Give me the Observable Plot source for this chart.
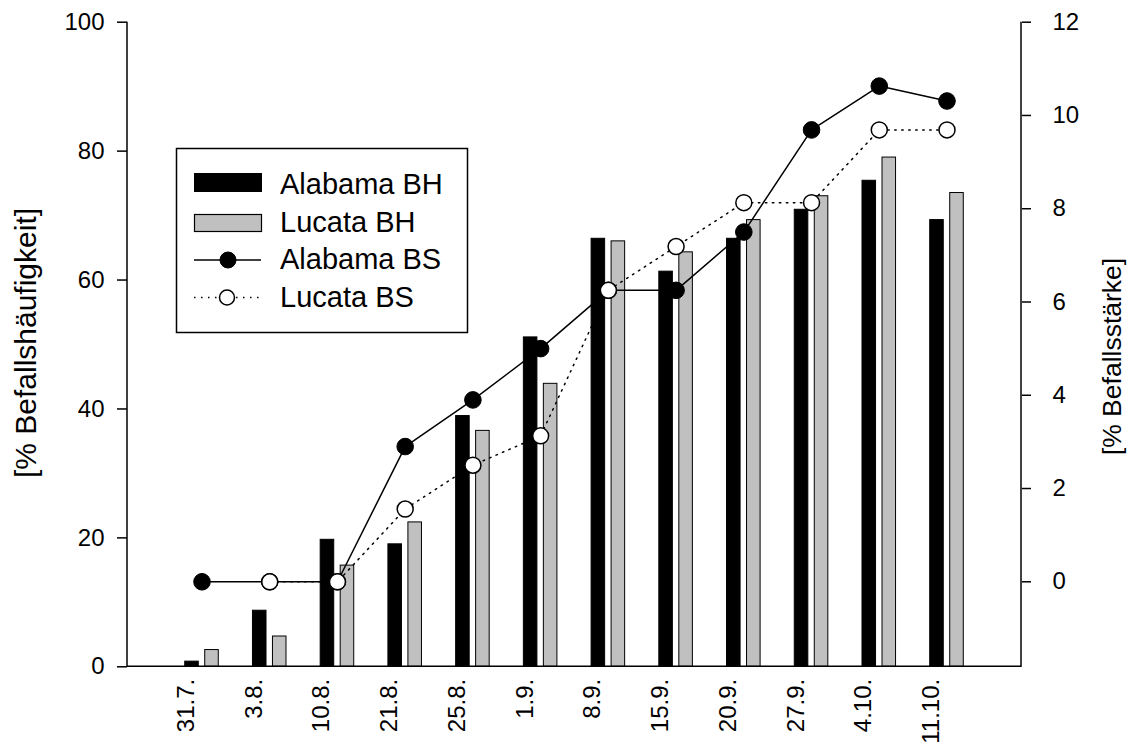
<!DOCTYPE html>
<html>
<head>
<meta charset="utf-8">
<script src="https://cdn.jsdelivr.net/npm/d3@7"></script>
<script src="https://cdn.jsdelivr.net/npm/@observablehq/plot@0.6"></script>
<style>
  html, body { margin: 0; padding: 0; background: #fff; }
  #chart { width: 1128px; height: 749px; }
</style>
</head>
<body>
<div id="chart"></div>
<script>
// ---- data ----
const dates = ["31.7.", "3.8.", "10.8.", "21.8.", "25.8.", "1.9.", "8.9.", "15.9.", "20.9.", "27.9.", "4.10.", "11.10."];
const alabamaBH = [0.8, 8.7, 19.7, 19.0, 38.9, 51.1, 66.4, 61.3, 66.4, 70.9, 75.4, 69.3];
const lucataBH = [2.6, 4.7, 15.7, 22.4, 36.6, 43.9, 66.0, 64.3, 69.3, 73.0, 79.0, 73.5];
const alabamaBS = [0, 0, 0, 2.9, 3.9, 5.0, 6.25, 6.25, 7.5, 9.69, 10.63, 10.31];
const lucataBS = [null, 0, 0, 1.56, 2.5, 3.13, 6.25, 7.19, 8.13, 8.13, 9.69, 9.69];
const leftTicks = [0, 20, 40, 60, 80, 100];
const rightTicks = [0, 2, 4, 6, 8, 10, 12];
const leftTitle = "[% Befallshäufigkeit]";
const rightTitle = "[% Befallsstärke]";
const legendNames = ["Alabama BH", "Lucata BH", "Alabama BS", "Lucata BS"];

// right axis domain mapped onto the left one
const rMin = -1.823, rMax = 12;
const toLeft = v => (v == null ? NaN : (v - rMin) / (rMax - rMin) * 100);

const rows = dates.map((d, i) => ({date: d, aBH: alabamaBH[i], lBH: lucataBH[i], aBS: toLeft(alabamaBS[i]), lBS: toLeft(lucataBS[i])}));

function axisLines(index, scales, values, dims) {
  const g = d3.create("svg:g").attr("stroke", "black").attr("stroke-width", 1.5).attr("fill", "none");
  const l = dims.marginLeft, r = dims.width - dims.marginRight, t = dims.marginTop, b = dims.height - dims.marginBottom;
  g.append("line").attr("x1", l).attr("x2", l).attr("y1", t).attr("y2", b + 0.75);
  g.append("line").attr("x1", r).attr("x2", r).attr("y1", t).attr("y2", b + 0.75);
  g.append("line").attr("x1", l).attr("x2", r).attr("y1", b).attr("y2", b);
  return g.node();
}

function legend(index, scales, values, dims) {
  const g = d3.create("svg:g");
  g.append("rect").attr("x", 176.5).attr("y", 148.5).attr("width", 291).attr("height", 184)
    .attr("fill", "white").attr("stroke", "black").attr("stroke-width", 1.5);
  const ys = [182.5, 222.5, 260, 297.5];
  g.append("rect").attr("x", 194).attr("y", 173).attr("width", 68).attr("height", 19).attr("fill", "black");
  g.append("rect").attr("x", 194.5).attr("y", 214.5).attr("width", 67).attr("height", 17)
    .attr("fill", "#c0c0c0").attr("stroke", "black").attr("stroke-width", 1.2);
  g.append("line").attr("x1", 194).attr("x2", 261).attr("y1", ys[2]).attr("y2", ys[2]).attr("stroke", "black").attr("stroke-width", 1.5);
  g.append("circle").attr("cx", 228).attr("cy", ys[2]).attr("r", 8).attr("fill", "black").attr("stroke", "black");
  g.append("line").attr("x1", 194).attr("x2", 261).attr("y1", ys[3]).attr("y2", ys[3]).attr("stroke", "black")
    .attr("stroke-width", 1.5).attr("stroke-dasharray", "1.5,5.5");
  g.append("circle").attr("cx", 227).attr("cy", ys[3]).attr("r", 7.5).attr("fill", "white").attr("stroke", "black").attr("stroke-width", 1.5);
  const base = [194, 232, 269, 307];
  legendNames.forEach((n, i) => {
    g.append("text").attr("x", 280).attr("y", base[i]).attr("text-anchor", "start")
      .style("font-size", "29px").attr("fill", "black").text(n);
  });
  g.append("text").attr("transform", "translate(36,343) rotate(-90)").attr("text-anchor", "middle")
    .style("font-size", "30px").text(leftTitle);
  g.append("text").attr("transform", "translate(1121,356.5) rotate(-90)").attr("text-anchor", "middle")
    .style("font-size", "26.5px").text(rightTitle);
  return g.node();
}

const chart = Plot.plot({
  width: 1128,
  height: 749,
  marginLeft: 127,
  marginRight: 107,
  marginTop: 21.7,
  marginBottom: 82.7,
  style: {fontFamily: "'Liberation Sans', Arial, sans-serif", fontSize: "24px", background: "white", color: "black"},
  x: {domain: dates, paddingInner: 0.8, paddingOuter: 1, round: false, axis: null},
  y: {domain: [0, 100], axis: null},
  marks: [
    Plot.barY(rows, {x: "date", y: "aBH", fill: "black", stroke: "black", strokeWidth: 1, dx: -10, inset: 0}),
    Plot.barY(rows, {x: "date", y: "lBH", fill: "#c0c0c0", stroke: "black", strokeWidth: 1, dx: 10, inset: 0}),
    Plot.line(rows, {x: "date", y: "aBS", stroke: "black", strokeWidth: 1.5}),
    Plot.line(rows, {x: "date", y: "lBS", stroke: "black", strokeWidth: 1.5, strokeDasharray: "1.5,5.5"}),
    Plot.dot(rows, {x: "date", y: "aBS", r: 8.3, fill: "black", stroke: "black", strokeWidth: 1}),
    Plot.dot(rows, {x: "date", y: "lBS", r: 8, fill: "white", stroke: "black", strokeWidth: 1.5}),
    Plot.axisY({anchor: "left", ticks: leftTicks, tickSize: 10, tickPadding: 13, strokeWidth: 1.5, fontSize: 24}),
    Plot.axisY({anchor: "right", ticks: rightTicks.map(toLeft), tickFormat: (d, i) => String(rightTicks[i]),
      tickSize: 9, tickPadding: 22, strokeWidth: 1.5, fontSize: 24}),
    Plot.text(rows, {x: "date", y: () => 0, text: "date", rotate: -90, textAnchor: "end", lineAnchor: "bottom",
      dy: 12, dx: -8, fontSize: 24, fill: "black"}),
    axisLines,
    legend
  ]
});
document.getElementById("chart").appendChild(chart);
</script>
</body>
</html>
